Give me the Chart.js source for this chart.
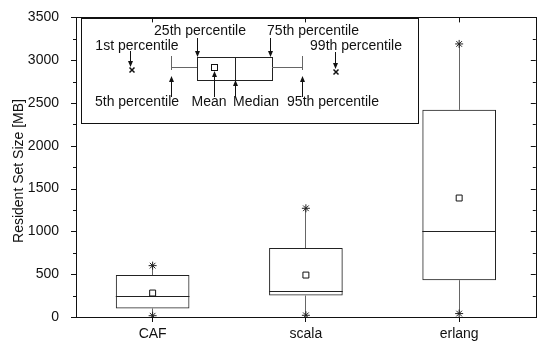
<!DOCTYPE html>
<html>
<head>
<meta charset="utf-8">
<script src="https://cdn.jsdelivr.net/npm/chart.js@4/dist/chart.umd.min.js"></script>
<style>
  html, body { margin:0; padding:0; background:#fff; }
  #wrap { width:537px; height:343px; overflow:hidden; position:relative; }
  #chart { position:absolute; left:0; top:0; }
</style>
</head>
<body>
<div id="wrap"><canvas id="chart" width="541" height="343"></canvas></div>
<script>
// ===== Data =====
const categories = ["CAF", "scala", "erlang"];
const p1     = [15, 20, 40];      // 1st percentile (lower star)
const q1     = [100, 250, 430];   // 25th percentile
const median = [250, 300, 1000];
const q3     = [490, 805, 2420];  // 75th percentile
const p99    = [600, 1270, 3190]; // 99th percentile (upper star)
const mean   = [280, 490, 1390];

const yTicksMajor = [0, 500, 1000, 1500, 2000, 2500, 3000, 3500];
const yTitle = "Resident Set Size [MB]";

const FONT = '14px "Liberation Sans", Arial, Helvetica, sans-serif';
const INK = "#111";

function crisp(v){ return Math.round(v) + 0.5; }

function arrow(ctx, x, y0, y1){
  // shaft from y0 to the tip at y1, filled head
  const dir = y1 > y0 ? 1 : -1;
  ctx.beginPath();
  ctx.moveTo(x, y0);
  ctx.lineTo(x, y1 - dir*5);
  ctx.stroke();
  ctx.beginPath();
  ctx.moveTo(x, y1);
  ctx.lineTo(x - 2.5, y1 - dir*6);
  ctx.lineTo(x + 2.5, y1 - dir*6);
  ctx.closePath();
  ctx.fill();
}

function smallX(ctx, x, y){
  ctx.save();
  ctx.lineWidth = 1.5;
  ctx.beginPath();
  ctx.moveTo(x-2.5, y-2.5); ctx.lineTo(x+2.5, y+2.5);
  ctx.moveTo(x+2.5, y-2.5); ctx.lineTo(x-2.5, y+2.5);
  ctx.stroke();
  ctx.restore();
}

// whiskers + medians, drawn under the box outlines and markers
const boxExtras = {
  id: "boxExtras",
  beforeDatasetsDraw(chart){
    const { ctx, scales:{ x, y } } = chart;
    const boxes = chart.getDatasetMeta(2).data;
    ctx.save();
    ctx.lineWidth = 1;
    categories.forEach((c, i) => {
      const px = crisp(x.getPixelForValue(i) - 0.5);
      ctx.strokeStyle = "#666";
      ctx.beginPath();
      ctx.moveTo(px, y.getPixelForValue(q3[i]));
      ctx.lineTo(px, y.getPixelForValue(p99[i]));
      ctx.moveTo(px, y.getPixelForValue(q1[i]));
      ctx.lineTo(px, y.getPixelForValue(p1[i]));
      ctx.stroke();
      const half = boxes[i].width / 2;
      const cx = boxes[i].x;
      const my = crisp(y.getPixelForValue(median[i]));
      ctx.strokeStyle = "#222";
      ctx.beginPath();
      ctx.moveTo(cx - half, my);
      ctx.lineTo(cx + half, my);
      ctx.stroke();
    });
    ctx.restore();
  },
  afterDraw(chart){
    const { ctx, chartArea:a, scales:{ x, y } } = chart;
    ctx.save();
    ctx.strokeStyle = "#111";
    ctx.fillStyle = INK;
    ctx.lineWidth = 1;

    // frame
    ctx.strokeRect(crisp(a.left), crisp(a.top), Math.round(a.right - a.left), Math.round(a.bottom - a.top));

    // y ticks, major and minor, outside on the left, inside on the right
    ctx.beginPath();
    for (let v = 0; v <= 3500; v += 250){
      const py = crisp(y.getPixelForValue(v));
      const len = yTicksMajor.includes(v) ? 5 : 3;
      ctx.moveTo(a.left - len, py); ctx.lineTo(a.left, py);
      ctx.moveTo(a.right - len, py); ctx.lineTo(a.right, py);
    }
    // x ticks at categories, top inside, bottom outside
    categories.forEach((c, i) => {
      const px = crisp(x.getPixelForValue(i) - 0.5);
      ctx.moveTo(px, a.top); ctx.lineTo(px, a.top + 5);
      ctx.moveTo(px, a.bottom); ctx.lineTo(px, a.bottom + 5);
    });
    ctx.stroke();

    // y title
    ctx.font = FONT;
    ctx.textAlign = "center";
    ctx.textBaseline = "middle";
    ctx.save();
    ctx.translate(19, 171);
    ctx.rotate(-Math.PI/2);
    ctx.fillText(yTitle, 0, 0);
    ctx.restore();

    // ===== key box explaining the percentiles =====
    const L = a.left;
    ctx.strokeRect(crisp(L + 5), crisp(18), 337, 105);

    // sample box
    ctx.strokeStyle = "#222";
    ctx.strokeRect(crisp(L + 121), crisp(57), 75, 23);
    ctx.beginPath();
    ctx.moveTo(crisp(L + 159), 57); ctx.lineTo(crisp(L + 159), 80.5);
    ctx.stroke();
    ctx.strokeStyle = "#666";
    ctx.beginPath();
    ctx.moveTo(L + 95, crisp(67)); ctx.lineTo(L + 121, crisp(67));
    ctx.moveTo(L + 196, crisp(67)); ctx.lineTo(L + 226, crisp(67));
    ctx.moveTo(crisp(L + 95), 56); ctx.lineTo(crisp(L + 95), 70);
    ctx.moveTo(crisp(L + 226), 56); ctx.lineTo(crisp(L + 226), 70);
    ctx.stroke();
    ctx.strokeStyle = "#111";
    ctx.fillStyle = "#fff";
    ctx.fillRect(L + 135.5, 64.5, 6, 6);
    ctx.strokeRect(L + 135.5, 64.5, 6, 6);
    ctx.fillStyle = INK;

    smallX(ctx, L + 56, 70);
    smallX(ctx, L + 260, 72);

    ctx.strokeStyle = "#111";
    ctx.lineWidth = 1;
    arrow(ctx, crisp(L + 54), 51, 67);
    arrow(ctx, crisp(L + 121), 38, 57);
    arrow(ctx, crisp(L + 194), 38, 57);
    arrow(ctx, crisp(L + 259), 52, 69);
    arrow(ctx, crisp(L + 95), 97, 76);
    arrow(ctx, crisp(L + 138), 97, 71);
    arrow(ctx, crisp(L + 159), 97, 80);
    arrow(ctx, crisp(L + 226), 97, 76);

    ctx.font = FONT;
    ctx.textAlign = "center";
    ctx.textBaseline = "middle";
    ctx.fillText("25th percentile", L + 124, 31);
    ctx.fillText("75th percentile", L + 237, 31);
    ctx.fillText("1st percentile", L + 61, 46);
    ctx.fillText("99th percentile", L + 280, 46);
    ctx.fillText("5th percentile", L + 61, 102);
    ctx.fillText("Mean", L + 133, 102);
    ctx.fillText("Median", L + 180, 102);
    ctx.fillText("95th percentile", L + 257, 102);
    ctx.restore();
  }
};

new Chart(document.getElementById("chart"), {
  type: "bar",
  data: {
    labels: categories,
    datasets: [
      { type: "line", label: "Mean", data: mean, showLine: false, order: 1,
        pointStyle: "rect", pointRadius: 4.2, pointBackgroundColor: "#fff",
        pointBorderColor: "#111", pointBorderWidth: 1 },
      { type: "line", label: "99th", data: p99, showLine: false, order: 2,
        pointStyle: "star", pointRadius: 4, pointBorderColor: "#222", pointBorderWidth: 1 },
      { type: "bar", label: "Box", data: categories.map((c, i) => [q1[i], q3[i]]), order: 3,
        backgroundColor: "rgba(0,0,0,0)", borderColor: "#222", borderWidth: 1,
        borderSkipped: false, barPercentage: 74/154, categoryPercentage: 1 },
      { type: "line", label: "1st", data: p1, showLine: false, order: 2,
        pointStyle: "star", pointRadius: 4, pointBorderColor: "#222", pointBorderWidth: 1 }
    ]
  },
  options: {
    responsive: false,
    animation: false,
    devicePixelRatio: 1,
    layout: { padding: { top: 9, right: 2, left: 0, bottom: 0 } },
    plugins: { legend: { display: false }, tooltip: { enabled: false } },
    scales: {
      x: {
        offset: true,
        grid: { display: false },
        border: { display: false },
        ticks: { color: INK, font: { family: '"Liberation Sans", Arial, sans-serif', size: 14 }, padding: 1, maxRotation: 0 },
        afterFit(s){ s.height = 26; }
      },
      y: {
        min: 0, max: 3500,
        grid: { display: false },
        border: { display: false },
        ticks: { stepSize: 500, color: INK, font: { family: '"Liberation Sans", Arial, sans-serif', size: 14 }, padding: 9,
                 callback: v => String(v) },
        afterFit(s){ s.width = 76; }
      }
    }
  },
  plugins: [boxExtras]
});
</script>
</body>
</html>
